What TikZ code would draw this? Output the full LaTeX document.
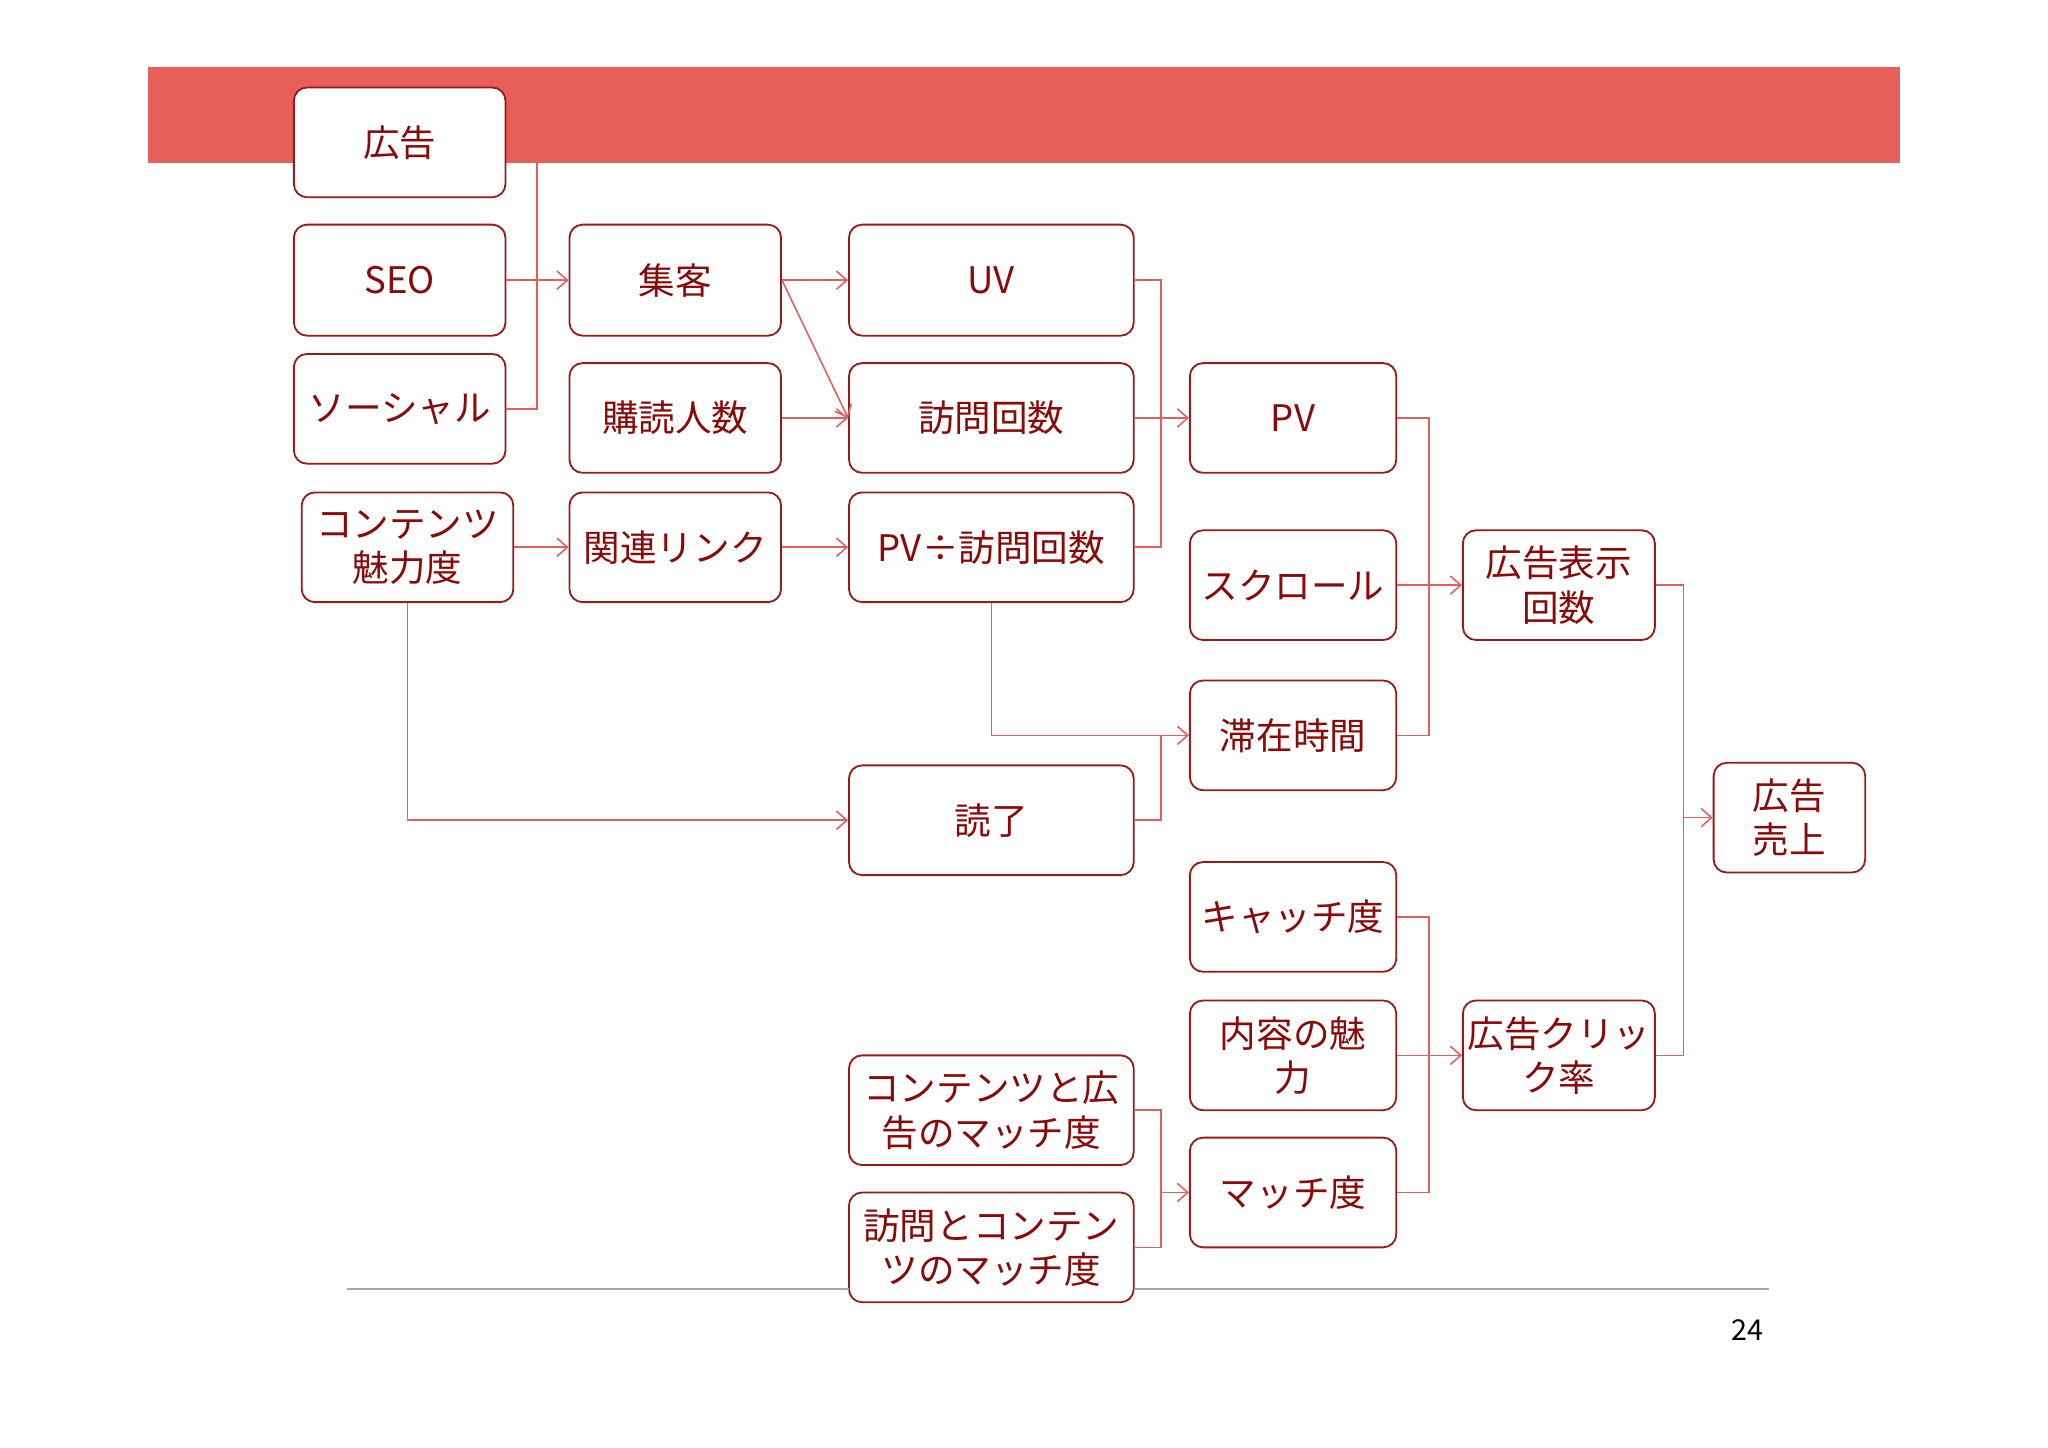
\documentclass[tikz,border=0pt]{standalone}
\usepackage{fontspec}
\setmainfont{Noto Sans CJK JP}
\usetikzlibrary{arrows.meta,calc}
\definecolor{ban}{HTML}{E85E5A}
\definecolor{ln}{HTML}{E06060}
\definecolor{bd}{HTML}{9A1A1A}
\definecolor{tx}{HTML}{8A0A0A}
\begin{document}
\begin{tikzpicture}[x=0.5pt,y=-0.5pt,
 box/.style={draw=bd,line width=0.7pt,rounded corners=5pt,fill=white,inner sep=0pt,align=center,text=tx,font=\fontsize{14}{17}\selectfont},
 cn/.style={draw=ln,line width=0.6pt},
 ar/.style={cn,-{Straight Barb[length=4pt,width=7pt]}}]
\useasboundingbox (0,0) rectangle (1568,1108);
\newcommand\bx[6]{\node[box,minimum width={(#4-#2)*0.5pt},minimum height={(#5-#3)*0.5pt}] (#1) at ({(#2+#4)/2},{(#3+#5)/2}) {#6};}
% hidden connector behind banner
\coordinate (k1) at (387,109);
\draw[cn] (k1) -| (411,214);
\fill[ban] (113,51) rectangle (1455,125);
\bx{kk}{225}{67}{387}{151}{広告}
\bx{seo}{225}{172}{387}{257}{SEO}
\bx{soc}{225}{271}{387}{355}{ソーシャル}
\bx{cm}{231}{377}{393}{461}{コンテンツ\\魅力度}
\bx{sk}{436}{172}{598}{257}{集客}
\bx{kd}{436}{278}{598}{362}{購読人数}
\bx{kl}{436}{377}{598}{461}{関連リンク}
\bx{uv}{650}{172}{868}{257}{UV}
\bx{hm}{650}{278}{868}{362}{訪問回数}
\bx{pvh}{650}{377}{868}{461}{PV÷訪問回数}
\bx{dr}{650}{586}{868}{670}{読了}
\bx{cam}{650}{808}{868}{892}{コンテンツと広\\告のマッチ度}
\bx{hcm}{650}{913}{868}{997}{訪問とコンテン\\ツのマッチ度}
\bx{pv}{911}{278}{1069}{362}{PV}
\bx{sc}{911}{406}{1069}{490}{スクロール}
\bx{tz}{911}{521}{1069}{605}{滞在時間}
\bx{ca}{911}{660}{1069}{744}{キャッチ度}
\bx{nm}{911}{766}{1069}{850}{内容の魅\\力}
\bx{md}{911}{871}{1069}{955}{マッチ度}
\bx{ah}{1120}{406}{1267}{490}{広告表示\\回数}
\bx{ac}{1120}{766}{1267}{850}{広告クリッ\\ク率}
\bx{au}{1312}{584}{1428}{668}{広告\\売上}
% connectors
\draw[cn] (125*0+411,125) -- (411,214);
\draw[ar] (seo.east) -- (sk.west);
\draw[cn] (soc.east) -| (411,214);
\draw[ar] (sk.east) -- ++(25,0) -- (uv.west);
\draw[ar] (sk.east) -- (hm.west);
\draw[ar] (kd.east) -- (hm.west);
\draw[ar] (cm.east) -- (kl.west);
\draw[ar] (kl.east) -- (pvh.west);
\draw[ar] (cm.south -| 312,461) |- (dr.west);
\draw[cn] (uv.east) -| (889,320);
\draw[cn] (pvh.east) -| (889,320);
\draw[ar] (hm.east) -- (pv.west);
\draw[ar] (pvh.south) |- (tz.west);
\draw[cn] (dr.east) -| (889,563);
\draw[cn] (pv.east) -| (1094,449);
\draw[cn] (tz.east) -| (1094,449);
\draw[ar] (sc.east) -- (ah.west);
\draw[cn] (ca.east) -| (1094,808);
\draw[cn] (md.east) -| (1094,808);
\draw[ar] (nm.east) -- (ac.west);
\draw[cn] (cam.east) -| (889,913);
\draw[cn] (hcm.east) -| (889,913);
\draw[ar] (889,913) -- (md.west);
\draw[cn] (ah.east) -| (1289,626);
\draw[cn] (ac.east) -| (1289,626);
\draw[ar] (1289,626) -- (au.west);
% footer
\draw[gray!70,line width=0.6pt] (266,987) -- (650,987);
\draw[gray!70,line width=0.6pt] (868,987) -- (1354,987);
\node[font=\fontsize{11}{13}\selectfont] (pg) at (1338,1018) {24};
\end{tikzpicture}
\end{document}
